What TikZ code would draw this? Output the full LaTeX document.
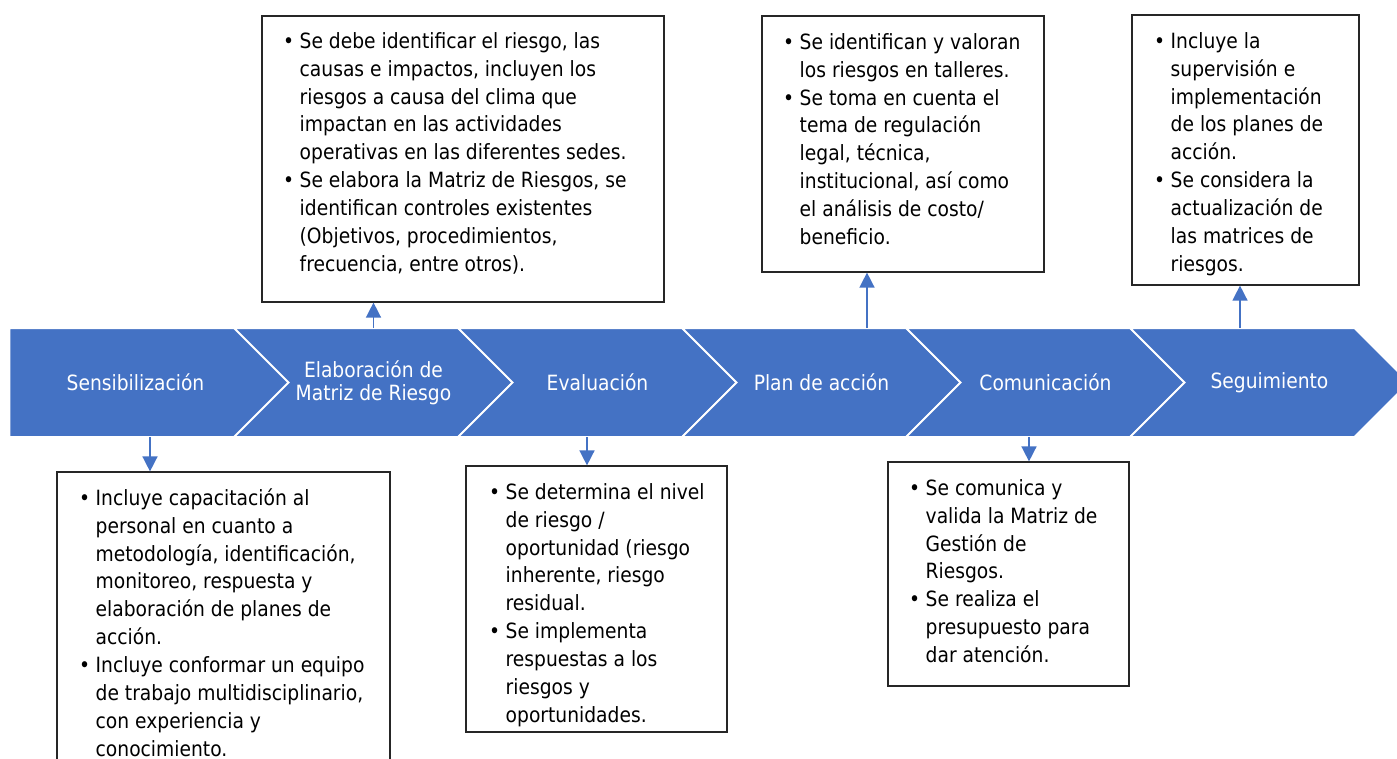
\documentclass[tikz,border=0pt]{standalone}
\usepackage{fontspec}
\setmainfont{DejaVu Sans}[FakeStretch=0.89]
\usetikzlibrary{shapes.symbols,arrows.meta}
\definecolor{stageblue}{HTML}{4472C4}
\newcommand{\bul}{\strut\makebox[16.5pt][l]{\textbullet}}
\newcommand{\cont}{\hspace*{16.5pt}}
\tikzset{
  chev/.style={shape=signal, signal to=east, signal from=west, fill=stageblue,
    draw=white, line width=2pt, minimum width=279pt, minimum height=109pt,
    inner sep=0pt, outer sep=0pt, text=white, align=center,
    font=\fontsize{21}{23}\selectfont},
  chevfirst/.style={chev, signal from=nowhere, minimum width=307pt},
  infobox/.style={draw=black!85, line width=1.2pt, fill=white, inner sep=0pt},
  infotext/.style={anchor=north west, align=left, inner sep=0pt,
    font=\fontsize{21}{27.9}\selectfont},
  link/.style={draw=stageblue, line width=1.5pt, -{Triangle[width=15pt,length=15pt]}}
}
\begin{document}
\begin{tikzpicture}[x=1pt,y=-1pt]
	\useasboundingbox (0,0) rectangle (1397,758);
	\clip (0,0) rectangle (1397,758);
	% boxes above the band
	\node[infobox, minimum width=402pt, minimum height=286pt] (boxA) at (463,159) {};
	\node[infobox, minimum width=282pt, minimum height=256pt] (boxB) at (903,144) {};
	\node[infobox, minimum width=227pt, minimum height=270pt] (boxC) at (1245.5,150) {};
	% boxes below the band
	\node[infobox, minimum width=333pt, minimum height=328pt] (boxD) at (223.5,636) {};
	\node[infobox, minimum width=261pt, minimum height=266pt] (boxE) at (596.5,599) {};
	\node[infobox, minimum width=241pt, minimum height=224pt] (boxF) at (1008.5,574) {};
	% texts
	\node[infotext] (txtA) at (283,28.5) {\bul Se debe identificar el riesgo, las\\
		\cont causas e impactos, incluyen los\\
		\cont riesgos a causa del clima que\\
		\cont impactan en las actividades\\
		\cont operativas en las diferentes sedes.\\
		\bul Se elabora la Matriz de Riesgos, se\\
		\cont identifican controles existentes\\
		\cont (Objetivos, procedimientos,\\
		\cont frecuencia, entre otros).};
	\node[infotext] (txtB) at (783,29.5) {\bul Se identifican y valoran\\
		\cont los riesgos en talleres.\\
		\bul Se toma en cuenta el\\
		\cont tema de regulación\\
		\cont legal, técnica,\\
		\cont institucional, así como\\
		\cont el análisis de costo/\\
		\cont beneficio.};
	\node[infotext] (txtC) at (1154,28.5) {\bul Incluye la\\
		\cont supervisión e\\
		\cont implementación\\
		\cont de los planes de\\
		\cont acción.\\
		\bul Se considera la\\
		\cont actualización de\\
		\cont las matrices de\\
		\cont riesgos.};
	\node[infotext] (txtD) at (79,485.5) {\bul Incluye capacitación al\\
		\cont personal en cuanto a\\
		\cont metodología, identificación,\\
		\cont monitoreo, respuesta y\\
		\cont elaboración de planes de\\
		\cont acción.\\
		\bul Incluye conformar un equipo\\
		\cont de trabajo multidisciplinario,\\
		\cont con experiencia y\\
		\cont conocimiento.};
	\node[infotext] (txtE) at (489,479.5) {\bul Se determina el nivel\\
		\cont de riesgo /\\
		\cont oportunidad (riesgo\\
		\cont inherente, riesgo\\
		\cont residual.\\
		\bul Se implementa\\
		\cont respuestas a los\\
		\cont riesgos y\\
		\cont oportunidades.};
	\node[infotext] (txtF) at (909,475.5) {\bul Se comunica y\\
		\cont valida la Matriz de\\
		\cont Gestión de\\
		\cont Riesgos.\\
		\bul Se realiza el\\
		\cont presupuesto para\\
		\cont dar atención.};
	% the band of stages
	\node[chevfirst] (ch1) at (135.5,382.5) {Sensibilización};
	\node[chev] (ch2) at (373.5,382.5) {Elaboración de\\Matriz de Riesgo};
	\node[chev] (ch3) at (597.5,382.5) {Evaluación};
	\node[chev] (ch4) at (821.5,382.5) {Plan de acción};
	\node[chev] (ch5) at (1045.5,382.5) {Comunicación};
	\node[chev] (ch6) at (1269.5,382.5) {Seguimiento};
	% links
	\draw[link] ([xshift=14.5]ch1.south) -- ([xshift=14.5]ch1.south |- boxD.north);
	\draw[link] (ch2.north) -- (ch2.north |- boxA.south);
	\draw[link] ([xshift=-10.5]ch3.south) -- ([xshift=-10.5]ch3.south |- boxE.north);
	\draw[link] ([xshift=45.5]ch4.north) -- ([xshift=45.5]ch4.north |- boxB.south);
	\draw[link] ([xshift=-16.5]ch5.south) -- ([xshift=-16.5]ch5.south |- boxF.north);
	\draw[link] ([xshift=-29.5]ch6.north) -- ([xshift=-29.5]ch6.north |- boxC.south);
\end{tikzpicture}
\end{document}
